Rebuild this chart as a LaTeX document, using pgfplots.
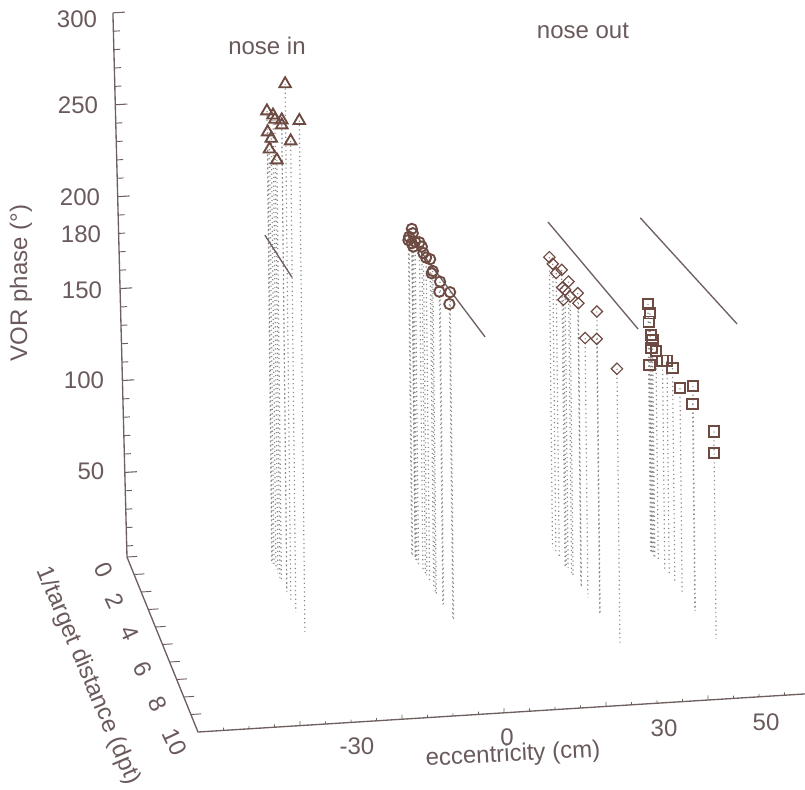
\documentclass[border=0pt]{standalone}
\usepackage{pgfplots}
\usepackage{pgfplotstable}
\usepackage{fontspec}
\setmainfont{Liberation Sans}
\pgfplotsset{compat=1.18}
\definecolor{txt}{HTML}{6A5A5C}
\definecolor{axc}{HTML}{6F5F5F}
\definecolor{mk}{HTML}{6E4B42}
\definecolor{drop}{HTML}{8A8A8A}
\pgfplotstableread{
x y z
-32.0 2.95 284.3
-32.8 0.86 249.8
-32.4 1.44 253.0
-32.4 1.71 253.3
-32.2 2.55 260.9
-32.0 2.40 256.7
-31.8 4.80 281.9
-32.7 0.86 238.4
-32.5 1.23 238.4
-32.0 3.66 260.0
-32.6 1.03 230.7
-32.4 1.93 233.3
}\tri
\pgfplotstableread{
x y z
-5.04 1.14 183.6
-4.98 1.23 182.1
-5.39 0.89 175.2
-5.07 1.14 175.8
-4.56 1.86 183.1
-4.97 1.29 175.4
-4.39 2.08 182.8
-4.30 2.23 180.7
-4.13 2.49 180.7
-3.85 2.86 183.3
-3.70 3.12 179.3
-3.78 3.03 177.2
-3.23 3.81 180.0
-3.30 3.75 174.0
-2.56 4.75 183.1
-2.64 4.69 176.1
-5.25 0.89 177.0
-4.85 1.45 179.6
}\cir
\pgfplotstableread{
x y z
22.07 0.98 162.0
22.37 1.24 160.8
23.10 1.99 164.5
22.65 1.51 158.3
23.65 2.54 163.3
23.10 2.04 155.4
24.40 3.31 164.2
23.75 2.67 156.4
23.20 2.12 149.5
24.43 3.36 159.2
25.98 4.88 168.9
24.96 3.89 145.2
25.90 4.88 154.0
27.60 6.50 152.9
23.35 2.26 156.2
}\dia
\pgfplotstableread{
x y z
40.60 1.49 138.3
40.75 1.67 134.8
40.60 1.57 129.3
40.80 1.74 123.8
40.90 1.87 122.3
40.80 1.80 117.1
41.20 2.13 118.7
40.60 1.62 106.2
41.80 2.62 117.9
42.20 2.96 121.1
42.70 3.39 121.0
43.30 3.99 115.8
44.50 4.98 126.2
44.40 4.98 116.4
46.30 6.62 116.7
46.30 6.62 104.9
}\squ
\begin{document}
\begin{tikzpicture}
\useasboundingbox (0pt,0pt) rectangle (603.75pt,-591.75pt);
\begin{axis}[
  anchor=origin, at={(324.75pt,-403.35pt)},
  x={(3.825pt,0.24pt)}, y={(5.325pt,-13.125pt)}, z={(-0.015pt,1.38pt)},
  xmin=-60, xmax=60, ymin=0, ymax=10, zmin=4, zmax=300,
  hide axis, clip=false, unbounded coords=jump,
]
% axis lines
\addplot3[axc,line width=1pt,no markers] coordinates {(-61.6,0,300) (-60,0,4) (-60,10,4) (60,10,4)};
% z ticks, major
\addplot3[axc,line width=0.8pt,no markers] coordinates {
(-61.60,0,300) (-59.25,0,300) (nan,nan,nan)
(-61.33,0,250) (-58.98,0,250) (nan,nan,nan)
(-61.06,0,200) (-58.71,0,200) (nan,nan,nan)
(-60.79,0,150) (-58.44,0,150) (nan,nan,nan)
(-60.52,0,100) (-58.17,0,100) (nan,nan,nan)
(-60.25,0,50) (-57.90,0,50)};
% z ticks, minor
\addplot3[axc,line width=0.7pt,no markers] coordinates {
(-61.54,0,290) (-60.27,0,290) (nan,nan,nan)
(-61.49,0,280) (-60.22,0,280) (nan,nan,nan)
(-61.44,0,270) (-60.17,0,270) (nan,nan,nan)
(-61.38,0,260) (-60.11,0,260) (nan,nan,nan)
(-61.27,0,240) (-60.00,0,240) (nan,nan,nan)
(-61.22,0,230) (-59.95,0,230) (nan,nan,nan)
(-61.17,0,220) (-59.90,0,220) (nan,nan,nan)
(-61.11,0,210) (-59.84,0,210) (nan,nan,nan)
(-61.00,0,190) (-59.73,0,190) (nan,nan,nan)
(-60.95,0,180) (-59.68,0,180) (nan,nan,nan)
(-60.90,0,170) (-59.63,0,170) (nan,nan,nan)
(-60.84,0,160) (-59.57,0,160) (nan,nan,nan)
(-60.73,0,140) (-59.46,0,140) (nan,nan,nan)
(-60.68,0,130) (-59.41,0,130) (nan,nan,nan)
(-60.63,0,120) (-59.36,0,120) (nan,nan,nan)
(-60.57,0,110) (-59.30,0,110) (nan,nan,nan)
(-60.46,0,90) (-59.19,0,90) (nan,nan,nan)
(-60.41,0,80) (-59.14,0,80) (nan,nan,nan)
(-60.36,0,70) (-59.09,0,70) (nan,nan,nan)
(-60.30,0,60) (-59.03,0,60) (nan,nan,nan)
(-60.19,0,40) (-58.92,0,40) (nan,nan,nan)
(-60.14,0,30) (-58.87,0,30) (nan,nan,nan)
(-60.09,0,20) (-58.82,0,20) (nan,nan,nan)
(-60.03,0,10) (-58.76,0,10)};
% y ticks
\addplot3[axc,line width=0.7pt,no markers] coordinates {
(-60,0,4) (-58,0,4) (nan,nan,nan)
(-60,1,4) (-58,1,4) (nan,nan,nan)
(-60,2,4) (-58,2,4) (nan,nan,nan)
(-60,3,4) (-58,3,4) (nan,nan,nan)
(-60,4,4) (-58,4,4) (nan,nan,nan)
(-60,5,4) (-58,5,4) (nan,nan,nan)
(-60,6,4) (-58,6,4) (nan,nan,nan)
(-60,7,4) (-58,7,4) (nan,nan,nan)
(-60,8,4) (-58,8,4) (nan,nan,nan)
(-60,9,4) (-58,9,4)};
% x ticks
\addplot3[axc,line width=0.6pt,no markers] coordinates {
(-55,10,4) (-55,10,5.5) (nan,nan,nan)
(-50,10,4) (-50,10,5.5) (nan,nan,nan)
(-45,10,4) (-45,10,5.5) (nan,nan,nan)
(-40,10,4) (-40,10,6.5) (nan,nan,nan)
(-35,10,4) (-35,10,5.5) (nan,nan,nan)
(-30,10,4) (-30,10,5.5) (nan,nan,nan)
(-25,10,4) (-25,10,5.5) (nan,nan,nan)
(-20,10,4) (-20,10,6.5) (nan,nan,nan)
(-15,10,4) (-15,10,5.5) (nan,nan,nan)
(-10,10,4) (-10,10,5.5) (nan,nan,nan)
(-5,10,4) (-5,10,5.5) (nan,nan,nan)
(0,10,4) (0,10,6.5) (nan,nan,nan)
(5,10,4) (5,10,5.5) (nan,nan,nan)
(10,10,4) (10,10,5.5) (nan,nan,nan)
(15,10,4) (15,10,5.5) (nan,nan,nan)
(20,10,4) (20,10,6.5) (nan,nan,nan)
(25,10,4) (25,10,5.5) (nan,nan,nan)
(30,10,4) (30,10,5.5) (nan,nan,nan)
(35,10,4) (35,10,5.5) (nan,nan,nan)
(40,10,4) (40,10,6.5) (nan,nan,nan)
(45,10,4) (45,10,5.5) (nan,nan,nan)
(50,10,4) (50,10,5.5) (nan,nan,nan)
(55,10,4) (55,10,5.5)};
% drop lines
\pgfplotsset{dropl/.style={no markers,drop,line width=0.9pt,dash pattern=on 0.9pt off 2.4pt}}
\addplot3[dropl] coordinates {
(-32.0,2.95,284.3) (-32.0,2.95,4) (nan,nan,nan)
(-32.8,0.86,249.8) (-32.8,0.86,4) (nan,nan,nan)
(-32.4,1.44,253.0) (-32.4,1.44,4) (nan,nan,nan)
(-32.4,1.71,253.3) (-32.4,1.71,4) (nan,nan,nan)
(-32.2,2.55,260.9) (-32.2,2.55,4) (nan,nan,nan)
(-32.0,2.40,256.7) (-32.0,2.40,4) (nan,nan,nan)
(-31.8,4.80,281.9) (-31.8,4.80,4) (nan,nan,nan)
(-32.7,0.86,238.4) (-32.7,0.86,4) (nan,nan,nan)
(-32.5,1.23,238.4) (-32.5,1.23,4) (nan,nan,nan)
(-32.0,3.66,260.0) (-32.0,3.66,4) (nan,nan,nan)
(-32.6,1.03,230.7) (-32.6,1.03,4) (nan,nan,nan)
(-32.4,1.93,233.3) (-32.4,1.93,4)};
\addplot3[dropl] coordinates {
(-5.04,1.14,183.6) (-5.04,1.14,4) (nan,nan,nan)
(-4.98,1.23,182.1) (-4.98,1.23,4) (nan,nan,nan)
(-5.39,0.89,175.2) (-5.39,0.89,4) (nan,nan,nan)
(-5.07,1.14,175.8) (-5.07,1.14,4) (nan,nan,nan)
(-4.56,1.86,183.1) (-4.56,1.86,4) (nan,nan,nan)
(-4.97,1.29,175.4) (-4.97,1.29,4) (nan,nan,nan)
(-4.39,2.08,182.8) (-4.39,2.08,4) (nan,nan,nan)
(-4.30,2.23,180.7) (-4.30,2.23,4) (nan,nan,nan)
(-4.13,2.49,180.7) (-4.13,2.49,4) (nan,nan,nan)
(-3.85,2.86,183.3) (-3.85,2.86,4) (nan,nan,nan)
(-3.70,3.12,179.3) (-3.70,3.12,4) (nan,nan,nan)
(-3.78,3.03,177.2) (-3.78,3.03,4) (nan,nan,nan)
(-3.23,3.81,180.0) (-3.23,3.81,4) (nan,nan,nan)
(-3.30,3.75,174.0) (-3.30,3.75,4) (nan,nan,nan)
(-2.56,4.75,183.1) (-2.56,4.75,4) (nan,nan,nan)
(-2.64,4.69,176.1) (-2.64,4.69,4) (nan,nan,nan)
(-5.25,0.89,177.0) (-5.25,0.89,4) (nan,nan,nan)
(-4.85,1.45,179.6) (-4.85,1.45,4)};
\addplot3[dropl] coordinates {
(22.07,0.98,162.0) (22.07,0.98,4) (nan,nan,nan)
(22.37,1.24,160.8) (22.37,1.24,4) (nan,nan,nan)
(23.10,1.99,164.5) (23.10,1.99,4) (nan,nan,nan)
(22.65,1.51,158.3) (22.65,1.51,4) (nan,nan,nan)
(23.65,2.54,163.3) (23.65,2.54,4) (nan,nan,nan)
(23.10,2.04,155.4) (23.10,2.04,4) (nan,nan,nan)
(24.40,3.31,164.2) (24.40,3.31,4) (nan,nan,nan)
(23.75,2.67,156.4) (23.75,2.67,4) (nan,nan,nan)
(23.20,2.12,149.5) (23.20,2.12,4) (nan,nan,nan)
(24.43,3.36,159.2) (24.43,3.36,4) (nan,nan,nan)
(25.98,4.88,168.9) (25.98,4.88,4) (nan,nan,nan)
(24.96,3.89,145.2) (24.96,3.89,4) (nan,nan,nan)
(25.90,4.88,154.0) (25.90,4.88,4) (nan,nan,nan)
(27.60,6.50,152.9) (27.60,6.50,4) (nan,nan,nan)
(23.35,2.26,156.2) (23.35,2.26,4)};
\addplot3[dropl] coordinates {
(40.60,1.49,138.3) (40.60,1.49,4) (nan,nan,nan)
(40.75,1.67,134.8) (40.75,1.67,4) (nan,nan,nan)
(40.60,1.57,129.3) (40.60,1.57,4) (nan,nan,nan)
(40.80,1.74,123.8) (40.80,1.74,4) (nan,nan,nan)
(40.90,1.87,122.3) (40.90,1.87,4) (nan,nan,nan)
(40.80,1.80,117.1) (40.80,1.80,4) (nan,nan,nan)
(41.20,2.13,118.7) (41.20,2.13,4) (nan,nan,nan)
(40.60,1.62,106.2) (40.60,1.62,4) (nan,nan,nan)
(41.80,2.62,117.9) (41.80,2.62,4) (nan,nan,nan)
(42.20,2.96,121.1) (42.20,2.96,4) (nan,nan,nan)
(42.70,3.39,121.0) (42.70,3.39,4) (nan,nan,nan)
(43.30,3.99,115.8) (43.30,3.99,4) (nan,nan,nan)
(44.50,4.98,126.2) (44.50,4.98,4) (nan,nan,nan)
(44.40,4.98,116.4) (44.40,4.98,4) (nan,nan,nan)
(46.30,6.62,116.7) (46.30,6.62,4)};
% prediction lines
\addplot3[axc,line width=1pt,no markers] coordinates {(-32.3,0,174.1) (-32.5,4,189.3)};
\addplot3[axc,line width=1pt,no markers] coordinates {(-3.5,0,166.6) (2.5,6,169.8)};
\addplot3[axc,line width=1pt,no markers] coordinates {(23.2,0,171.6) (32.5,6,168.9)};
\addplot3[axc,line width=1pt,no markers] coordinates {(41.3,0,170.7) (51.9,6,168.3)};
% data
\addplot3[only marks,mark=triangle,mark size=5pt,mark options={mk,line width=1.4pt,fill=none}] table {\tri};
\addplot3[only marks,mark=o,mark size=3.9pt,mark options={mk,line width=1.4pt,fill=none}] table {\cir};
\addplot3[only marks,mark=square,mark size=3pt,mark options={mk,rotate=45,line width=0.9pt,fill=none}] table {\dia};
\addplot3[only marks,mark=square,mark size=3.9pt,mark options={mk,line width=1.4pt,fill=none}] table {\squ};
\end{axis}
\begin{scope}[x=0.75pt,y=-0.75pt,every node/.style={text=txt,font=\fontsize{18}{20}\selectfont,inner sep=0pt}]
\node at (77,19) {300};
\node at (78,105) {250};
\node at (80,197) {200};
\node at (81,234) {180};
\node at (82,290) {150};
\node at (84,380) {100};
\node at (91,471) {50};
\node[rotate=90] at (21,283) {VOR phase (°)};
\node at (267,46) {nose in};
\node at (583,31) {nose out};
\node at (357,746) {-30};
\node at (507,737) {0};
\node at (664,728) {30};
\node at (766,722) {50};
\node[rotate=3] at (513,755) {eccentricity (cm)};
\node[rotate=-65] at (104,570) {0};
\node[rotate=-65] at (115,601) {2};
\node[rotate=-65] at (130,633) {4};
\node[rotate=-65] at (143,669) {6};
\node[rotate=-65] at (158,704) {8};
\node[rotate=-65] at (175,742) {10};
\node[rotate=-67] at (88,676) {1/target distance (dpt)};
\end{scope}
\end{tikzpicture}
\end{document}
